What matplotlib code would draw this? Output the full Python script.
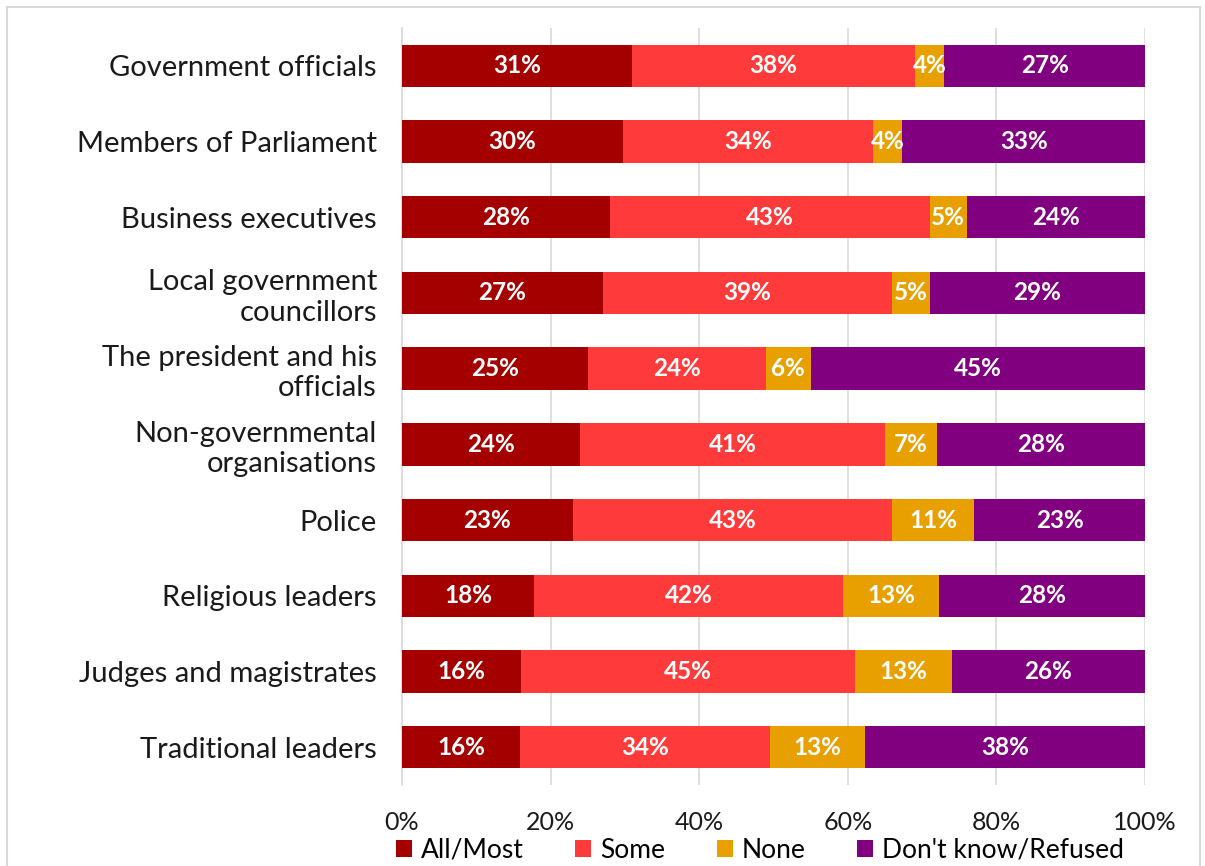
import numpy as np
import matplotlib.pyplot as plt
from matplotlib.patches import Rectangle

plt.rcParams['font.family'] = ['Lato', 'DejaVu Sans']

categories = [
    'Government officials',
    'Members of Parliament',
    'Business executives',
    'Local government\ncouncillors',
    'The president and his\nofficials',
    'Non-governmental\norganisations',
    'Police',
    'Religious leaders',
    'Judges and magistrates',
    'Traditional leaders',
]
all_most = [31, 30, 28, 27, 25, 24, 23, 18, 16, 16]
some = [38, 34, 43, 39, 24, 41, 43, 42, 45, 34]
none = [4, 4, 5, 5, 6, 7, 11, 13, 13, 13]
dont_know = [27, 33, 24, 29, 45, 28, 23, 28, 26, 38]

series = [
    ('All/Most', all_most, '#A50000'),
    ('Some', some, '#FF3A3A'),
    ('None', none, '#E8A000'),
    ("Don't know/Refused", dont_know, '#800080'),
]

values = np.array([s[1] for s in series], dtype=float)
shares = values / values.sum(axis=0) * 100  # 100% stacked

fig = plt.figure(figsize=(12.05, 8.66), dpi=100)
ax = fig.add_axes([0.3336, 0.0935, 0.6166, 0.8742])

y = np.arange(len(categories))
left = np.zeros(len(categories))
for (name, raw, color), share in zip(series, shares):
    ax.barh(y, share, left=left, height=0.56, color=color, label=name, zorder=3)
    for yi, l, w, v in zip(y, left, share, raw):
        ax.text(l + w / 2, yi, f'{v}%', ha='center', va='center',
                color='white', fontsize=17.5, fontweight='bold', zorder=4)
    left += share

ax.set_xlim(0, 100)
ax.set_ylim(len(categories) - 0.5, -0.5)
ax.set_yticks(y)
ax.set_yticklabels(categories, fontsize=21, color='#1a1a1a', linespacing=1.2)
ax.set_xticks(np.arange(0, 101, 20))
ax.set_xticklabels([f'{t}%' for t in range(0, 101, 20)], fontsize=18, color='#1a1a1a')
ax.tick_params(axis='y', length=0, pad=18)
ax.tick_params(axis='x', length=0, pad=19)
ax.grid(axis='x', color='#d9d9d9', linewidth=1.2, zorder=0)
for s in ['top', 'right', 'bottom']:
    ax.spines[s].set_visible(False)
ax.spines['left'].set_color('#d9d9d9')
ax.spines['left'].set_linewidth(1.2)

ax.legend(loc='center', bbox_to_anchor=(0.482, -0.086), ncol=4, frameon=False,
          fontsize=19, handlelength=0.6, handleheight=0.6, handletextpad=0.35,
          columnspacing=1.95, borderaxespad=0, borderpad=0)

# light frame around the chart area
fig.patches.append(Rectangle((7 / 1205, -0.01), 1193 / 1205, 1 - 7 / 866 + 0.01,
                             transform=fig.transFigure, fill=False,
                             edgecolor='#d9d9d9', linewidth=1.5))

fig.savefig('out.png', dpi=100, facecolor='white')
